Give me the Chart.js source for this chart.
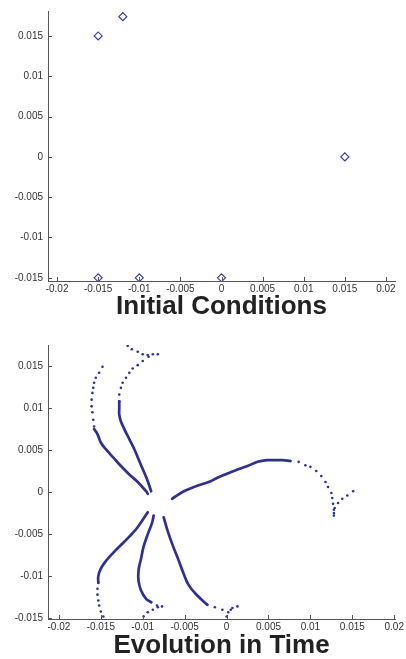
<!DOCTYPE html>
<html>
<head>
<meta charset="utf-8">
<script src="https://cdn.jsdelivr.net/npm/chart.js@4.4.0/dist/chart.umd.min.js"></script>
<style>
    html, body { margin: 0; padding: 0; background: #fff; }
    #wrap { position: relative; width: 406px; height: 659px; }
    .box { position: absolute; left: 0; width: 406px; }
</style>
</head>
<body>
<div id="wrap">
    <div class="box" style="top:0;height:330px"><canvas id="graficoInicial"></canvas></div>
    <div class="box" style="top:330px;height:329px"><canvas id="graficoEvolucao"></canvas></div>
</div>
<script>
//valores das marcas dos eixos
const xTicks = [-0.02, -0.015, -0.01, -0.005, 0, 0.005, 0.01, 0.015, 0.02];
const yTicks = [-0.015, -0.01, -0.005, 0, 0.005, 0.01, 0.015];

//condições iniciais dos 6 corpos
const initialPoints = [[-0.015, 0.015], [-0.012, 0.0174], [0.015, 0], [-0.015, -0.015], [-0.010, -0.015], [0, -0.015]];

//trajetórias: parte inicial (pontos separados) e parte densa (linha)
const trajADots = [[-0.0148,0.0149],[-0.0152,0.0142],[-0.0156,0.0136],[-0.0158,0.0130],[-0.0159,0.0124],[-0.0160,0.0118],[-0.0161,0.0110],[-0.0161,0.0102],[-0.0160,0.0095],[-0.0159,0.0086],[-0.0158,0.0078]];
const trajALine = [[-0.0158,0.0075],[-0.0154,0.0069],[-0.0150,0.0059],[-0.0144,0.0051],[-0.0135,0.0041],[-0.0126,0.0031],[-0.0116,0.0021],[-0.0106,0.0012],[-0.0096,0.0001],[-0.0094,-0.0002]];

const trajBDots = [[-0.0118,0.0174],[-0.0113,0.0170],[-0.0106,0.0167],[-0.0100,0.0164],[-0.0094,0.0163],[-0.0088,0.0164],[-0.0082,0.0164],[-0.0093,0.0161],[-0.0100,0.0156],[-0.0106,0.0151],[-0.0112,0.0147],[-0.0116,0.0142],[-0.0120,0.0136],[-0.0124,0.0130],[-0.0126,0.0124],[-0.0128,0.0116],[-0.0128,0.0108]];
const trajBLine = [[-0.0128,0.0108],[-0.0128,0.0100],[-0.0128,0.0092],[-0.0126,0.0084],[-0.0122,0.0075],[-0.0116,0.0063],[-0.0110,0.0051],[-0.0105,0.0039],[-0.0099,0.0025],[-0.0094,0.0013],[-0.0090,0.0001]];

const trajCDots = [[0.0151,0.0001],[0.0144,-0.0004],[0.0138,-0.0008],[0.0133,-0.0013],[0.0129,-0.0019],[0.0128,-0.0025],[0.0128,-0.0028],[0.0128,-0.0021],[0.0127,-0.0014],[0.0126,-0.0007],[0.0125,-0.0001],[0.0121,0.0006],[0.0118,0.0012],[0.0113,0.0019],[0.0107,0.0025],[0.0100,0.0030],[0.0094,0.0032],[0.0086,0.0036],[0.0076,0.0037]];
const trajCLine = [[0.0076,0.0037],[0.0067,0.0038],[0.0058,0.0038],[0.0049,0.0038],[0.0037,0.0036],[0.0025,0.0031],[0.0013,0.0027],[0.0001,0.0022],[-0.0011,0.0017],[-0.0019,0.0013],[-0.0039,0.0006],[-0.0051,0.0001],[-0.0065,-0.0008]];

const trajDDots = [[-0.0147,-0.0148],[-0.0150,-0.0142],[-0.0152,-0.0135],[-0.0153,-0.0129],[-0.0154,-0.0122],[-0.0154,-0.0115],[-0.0153,-0.0108]];
const trajDLine = [[-0.0153,-0.0108],[-0.0153,-0.0100],[-0.0150,-0.0091],[-0.0144,-0.0082],[-0.0135,-0.0072],[-0.0126,-0.0063],[-0.0116,-0.0053],[-0.0107,-0.0043],[-0.0100,-0.0033],[-0.0094,-0.0024]];

const trajEDots = [[-0.0099,-0.0148],[-0.0094,-0.0143],[-0.0088,-0.0140],[-0.0082,-0.0137],[-0.0077,-0.0136],[-0.0083,-0.0135],[-0.0090,-0.0131]];
const trajELine = [[-0.0090,-0.0131],[-0.0096,-0.0127],[-0.0102,-0.0117],[-0.0105,-0.0106],[-0.0105,-0.0093],[-0.0102,-0.0079],[-0.0099,-0.0065],[-0.0094,-0.0050],[-0.0089,-0.0037],[-0.0087,-0.0028]];

const trajFDots = [[0.0000,-0.0148],[0.0002,-0.0143],[0.0007,-0.0138],[0.0013,-0.0136],[0.0005,-0.0140],[-0.0005,-0.0140],[-0.0014,-0.0137],[-0.0023,-0.0134]];
const trajFLine = [[-0.0023,-0.0134],[-0.0034,-0.0124],[-0.0045,-0.0111],[-0.0052,-0.0095],[-0.0058,-0.0079],[-0.0064,-0.0064],[-0.0070,-0.0047],[-0.0075,-0.0030]];

const blue = '#2e3192';
const axisColor = '#555';

Chart.defaults.font.family = "'Liberation Sans', Arial, sans-serif";
Chart.defaults.font.size = 10;
Chart.defaults.color = '#333';

const toXY = arr => arr.map(p => ({ x: p[0], y: p[1] }));

//marcas dos eixos para dentro (estilo matlab)
const ticksInside = {
    id: 'ticksInside',
    afterDraw(chart) {
        const ctx = chart.ctx;
        const xs = chart.scales.x, ys = chart.scales.y;
        const area = chart.chartArea;
        ctx.save();
        ctx.strokeStyle = axisColor;
        ctx.lineWidth = 1;
        ctx.beginPath();
        xs.ticks.forEach(t => {
            const px = Math.round(xs.getPixelForValue(t.value)) + 0.5;
            ctx.moveTo(px, area.bottom);
            ctx.lineTo(px, area.bottom - 4);
        });
        ys.ticks.forEach(t => {
            const py = Math.round(ys.getPixelForValue(t.value)) + 0.5;
            ctx.moveTo(area.left, py);
            ctx.lineTo(area.left + 4, py);
        });
        ctx.stroke();
        ctx.restore();
    }
};

function axes(xMin, xMax, yMin, yMax) {
    return {
        x: {
            type: 'linear', min: xMin, max: xMax,
            afterBuildTicks: s => { s.ticks = xTicks.map(v => ({ value: v })); },
            afterFit: s => { s.height = 14; },
            grid: { display: true, drawOnChartArea: false, drawTicks: false },
            border: { display: true, color: axisColor, width: 1 },
            ticks: { padding: 2, autoSkip: false, maxRotation: 0, callback: v => String(v) }
        },
        y: {
            type: 'linear', min: yMin, max: yMax,
            afterBuildTicks: s => { s.ticks = yTicks.map(v => ({ value: v })); },
            afterFit: s => { s.width = 48; },
            grid: { display: true, drawOnChartArea: false, drawTicks: false },
            border: { display: true, color: axisColor, width: 1 },
            ticks: { padding: 5, autoSkip: false, callback: v => String(v) }
        }
    };
}

function title(text, padTop, padBottom) {
    return {
        display: true, text: text, position: 'bottom', fullSize: false, color: '#222',
        font: { family: "'Liberation Sans', Arial", size: 26, weight: 'bold', lineHeight: 30 / 26 },
        padding: { top: padTop, bottom: padBottom }
    };
}

//gráfico das condições iniciais
new Chart(document.getElementById('graficoInicial').getContext('2d'), {
    type: 'scatter',
    data: {
        datasets: [{
            label: 'Initial Conditions',
            data: toXY(initialPoints),
            pointStyle: 'rectRot',
            pointRadius: 4,
            borderColor: '#3038a0',
            backgroundColor: 'rgba(0,0,0,0)',
            borderWidth: 1.1
        }]
    },
    options: {
        responsive: true,
        maintainAspectRatio: false,
        animation: false,
        layout: { padding: { top: 6, right: 11, bottom: 8, left: 0 } },
        scales: axes(-0.0211, 0.0211, -0.0154, 0.0181),
        plugins: { legend: { display: false }, tooltip: { enabled: false }, title: title('Initial Conditions', -3, 0) }
    },
    plugins: [ticksInside]
});

//gráfico da evolução no tempo
const trails = [
    [trajADots, trajALine], [trajBDots, trajBLine], [trajCDots, trajCLine],
    [trajDDots, trajDLine], [trajEDots, trajELine], [trajFDots, trajFLine]
];
const evolutionSets = [];
trails.forEach(t => {
    evolutionSets.push({
        data: toXY(t[0]),
        pointRadius: 1.3,
        pointStyle: 'circle',
        backgroundColor: blue,
        borderWidth: 0
    });
    evolutionSets.push({
        data: toXY(t[1]),
        showLine: true,
        tension: 0.4,
        borderColor: blue,
        borderWidth: 2.7,
        borderCapStyle: 'round',
        pointRadius: 0
    });
});

new Chart(document.getElementById('graficoEvolucao').getContext('2d'), {
    type: 'scatter',
    data: { datasets: evolutionSets },
    options: {
        responsive: true,
        maintainAspectRatio: false,
        animation: false,
        layout: { padding: { top: 15, right: 9, bottom: 0, left: 0 } },
        scales: axes(-0.0213, 0.0201, -0.0151, 0.0175),
        plugins: { legend: { display: false }, tooltip: { enabled: false }, title: title('Evolution in Time', -2, -2) }
    },
    plugins: [ticksInside]
});
</script>
</body>
</html>
